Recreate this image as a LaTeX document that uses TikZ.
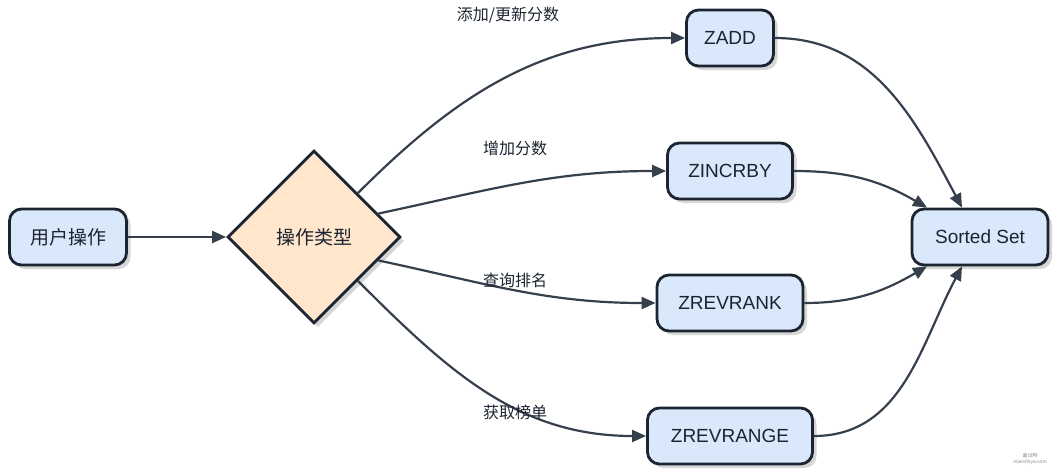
\documentclass[tikz,border=0pt]{standalone}
\usepackage{fontspec}
\setmainfont{Liberation Sans}
\newfontfamily\cjk{Noto Sans CJK SC}
\usepackage{xcolor}
\usepackage{tikz}
\usetikzlibrary{shadows}
\usetikzlibrary{positioning}
\usetikzlibrary{arrows.meta,shapes.geometric}
\definecolor{boxfill}{HTML}{DAE8FC}
\definecolor{decfill}{HTML}{FFE6CC}
\definecolor{linecol}{HTML}{36404D}
\definecolor{txtcol}{HTML}{1B2430}
\tikzstyle{opbox}=[rectangle,rounded corners=12pt,draw=txtcol,line width=2.8pt,fill=boxfill,minimum height=56pt,inner sep=0pt,font=\fontsize{19}{22}\selectfont,text=txtcol,drop shadow={shadow xshift=4pt,shadow yshift=-4pt,fill=black!16,opacity=1}]
\tikzstyle{decision}=[diamond,aspect=1,draw=txtcol,line width=2.8pt,fill=decfill,minimum size=173pt,inner sep=0pt,text=txtcol,drop shadow={shadow xshift=4pt,shadow yshift=-4pt,fill=black!16,opacity=1}]
\tikzstyle{edge} = [draw=linecol,line width=2.2pt,-{Triangle[length=14pt,width=12pt]}]
\tikzstyle{oplabel} = [font=\cjk\fontsize{16}{18}\selectfont,text=txtcol,inner sep=0pt]
\tikzset{mark text/.style={font=\fontsize{5}{6}\selectfont,text=black!45,inner sep=0pt}}

\begin{document}
\begin{tikzpicture}[x=1pt,y=1pt]

 \useasboundingbox (0,0) rectangle (1056,-471);

 %input and decision
 \node[opbox,minimum width=117pt,font=\cjk\fontsize{19}{22}\selectfont] (user) at (68,-237) {用户操作};
 \node[decision,font=\cjk\fontsize{19}{22}\selectfont] (type) at (314,-237) {操作类型};

 %commands
 \foreach \y/\w/\name/\label in {38/87/zadd/ZADD, 171/125/zincrby/ZINCRBY, 303/146/zrevrank/ZREVRANK, 436/165/zrevrange/ZREVRANGE}
         \node[opbox,minimum width=\w pt] (\name) at (730,-\y) {\label};

 \node[opbox,minimum width=136pt] (set) at (980,-237) {Sorted Set};

 \path[edge] (user) -- (type);

 %decision to commands
 \foreach \start/\dest/\out in {north east/zadd/45, 20/zincrby/12, -20/zrevrank/-12, south east/zrevrange/-45}
         \path[edge] (type.\start) to[out=\out,in=180] (\dest.west);

 \foreach \x/\y/\name/\label in {508/15/lzadd/{添加/更新分数}, 515/148/lzincrby/增加分数, 515/280/lzrevrank/查询排名, 515/412/lzrevrange/获取榜单}
         \node[oplabel] (\name) at (\x,-\y) {\label};

 %commands to sorted set
 \foreach \source/\side/\dx/\in in {zadd/north/-18/118, zincrby/north/-53/150, zrevrank/south/-53/-150, zrevrange/south/-18/-118}
         \path[edge] (\source.east) to[out=0,in=\in] ([xshift=\dx pt]set.\side);

 %watermark
 \node[mark text,font=\cjk\fontsize{5}{6}\selectfont] (wm1) at (1030,-456) {面试鸭};
 \node[mark text,below=1pt of wm1] (wm2) {mianshiya.com};

\end{tikzpicture}
\end{document}
